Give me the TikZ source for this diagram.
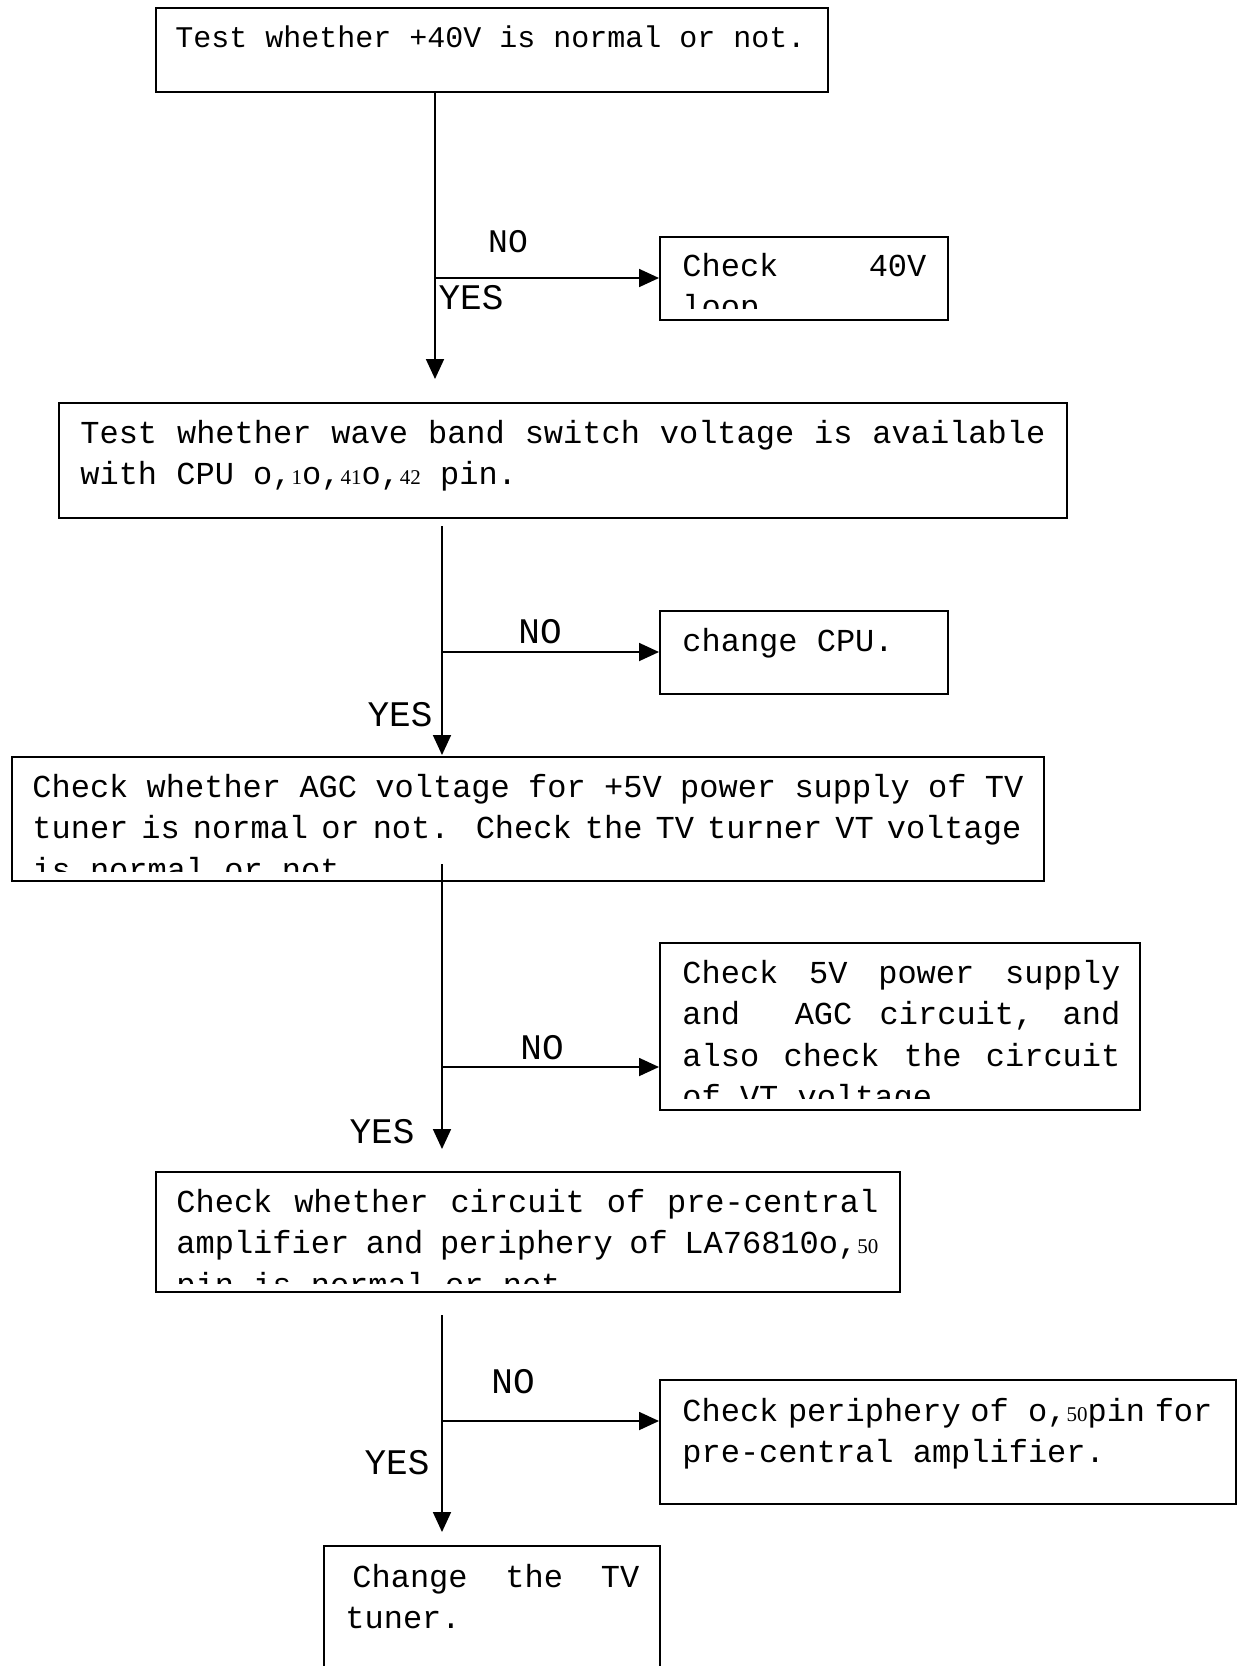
\documentclass[tikz,border=0pt]{standalone}
\usepackage{fontspec}
\setmonofont{Liberation Mono}
\newfontfamily\pinfont{Liberation Serif}
\usetikzlibrary{arrows.meta,positioning}

\newcommand{\boxfont}{\ttfamily\fontsize{16}{20.75}\selectfont%
 \fontdimen3\font=0.6em \fontdimen4\font=0.4em\relax}
\newcommand{\headfont}{\ttfamily\fontsize{15}{20.75}\selectfont}
\newcommand{\labelfont}{\ttfamily\fontsize{18}{18}\selectfont}
\newcommand{\smalllabelfont}{\ttfamily\fontsize{16.5}{16.5}\selectfont}
\newcommand{\pinno}[1]{{\pinfont\fontsize{10.5}{10.5}\selectfont #1}}
\newcommand{\textlines}[1]{\vtop{\baselineskip=20.75pt\lineskiplimit=-50pt\relax #1}}
\newcommand{\fitline}[2]{\hbox to #1{#2}}
\newcommand{\oneline}[1]{\hbox{#1}}

\begin{document}
\begin{tikzpicture}[x=0.5pt,y=-0.5pt]
 \tikzset{main node/.style={rectangle, draw, line width=0.9pt,
 		anchor=north west, inner sep=0pt}, }
 \tikzset{text node/.style={anchor=base west, inner sep=0pt,
 		font=\boxfont}, }
 \tikzset{answer node/.style={inner sep=0pt, font=\labelfont}, }
 \tikzset{linea/.style={line width=0.9pt,
 		-{Triangle[length=10pt,width=9pt]}},}
 \useasboundingbox[fill=white] (0,0) rectangle (1239,1666);
 %% boxes
 \node[main node, minimum width=336pt, minimum height=42pt] (1) at (155,7) {};
 \node[main node, minimum width=144pt, minimum height=41.5pt] (2) at (659,236) {};
 \node[main node, minimum width=504pt, minimum height=57.5pt] (3) at (58,402) {};
 \node[main node, minimum width=144pt, minimum height=41.5pt] (4) at (659,610) {};
 \node[main node, minimum width=516pt, minimum height=62pt] (5) at (11,756) {};
 \node[main node, minimum width=240pt, minimum height=83.5pt] (6) at (659,942) {};
 \node[main node, minimum width=372pt, minimum height=60pt] (7) at (155,1171) {};
 \node[main node, minimum width=288pt, minimum height=62pt] (8) at (659,1379) {};
 \node[main node, minimum width=168pt, minimum height=72.5pt] (9) at (323,1545) {};
 %% texts
 \node[text node, font=\headfont] (t1) at (175,47) {Test whether +40V is normal or not.};
 \begin{scope}
 	\clip (659,236) rectangle (947,308);
 	\node[text node] (t2) at (682,276) {\textlines{\fitline{122pt}{Check 40V}\oneline{loop}}};
 \end{scope}
 \node[text node] (t3) at (80,443) {\textlines{%
 	\fitline{482.5pt}{Test whether wave band switch voltage is available}%
 	\oneline{with CPU o,\pinno{1}o,\pinno{41}o,\pinno{42} pin.}}};
 \node[text node] (t4) at (682,651) {change CPU.};
 \begin{scope}
 	\clip (11,756) rectangle (1043,871);
 	\node[text node] (t5) at (32,797) {\textlines{%
 		\fitline{495.5pt}{Check whether AGC voltage for +5V power supply of TV}%
 		\fitline{494.5pt}{tuner is normal or not.\ \ Check the TV turner VT voltage}%
 		\oneline{is normal or not.}}};
 \end{scope}
 \begin{scope}
 	\clip (659,942) rectangle (1139,1098);
 	\node[text node] (t6) at (682,983) {\textlines{%
 		\fitline{219pt}{Check 5V power supply}%
 		\fitline{219pt}{and\ \ AGC circuit, and}%
 		\fitline{219pt}{also check the circuit}%
 		\oneline{of VT voltage.}}};
 \end{scope}
 \begin{scope}
 	\clip (155,1171) rectangle (899,1283);
 	\node[text node] (t7) at (176,1212) {\textlines{%
 		\fitline{351pt}{Check whether circuit of pre-central}%
 		\fitline{351pt}{amplifier and periphery of LA76810o,\pinno{50}}%
 		\oneline{pin is normal or not.}}};
 \end{scope}
 \node[text node] (t8) at (682,1421) {\textlines{%
 	\fitline{265pt}{Check periphery of\ \ o,\pinno{50}pin for}%
 	\oneline{pre-central amplifier.}}};
 \node[text node] (t9) at (345,1587) {\textlines{%
 	\fitline{147pt}{\hskip3.5pt Change the TV}%
 	\oneline{tuner.}}};
 %% answers
 \node[answer node, font=\smalllabelfont] (no1) at (508,242) {NO};
 \node[answer node] (yes1) at (471,298) {YES};
 \node[answer node] (no2) at (540,632) {NO};
 \node[answer node] (yes2) at (400,715) {YES};
 \node[answer node] (no3) at (542,1048) {NO};
 \node[answer node] (yes3) at (382,1132) {YES};
 \node[answer node] (no4) at (513,1382) {NO};
 \node[answer node] (yes4) at (397,1463) {YES};
 %% connectors
 \foreach \n/\x/\ya/\yb/\yc in {1/435/91/379/278, 2/442/526/755/652,
 		3/442/864/1149/1067, 4/442/1315/1532/1421} {
 	\coordinate (from\n) at (\x,\ya);
 	\coordinate (to\n) at (\x,\yb);
 	\coordinate (fork\n) at (\x,\yc);
 }
 \foreach \x in {1,...,4}
 \draw[linea] (from\x) -- (to\x);
 \foreach \x/\y in {1/2,2/4,3/6,4/8}
 \draw[linea] (fork\x) -- (fork\x -| \y.west);
 %%
\end{tikzpicture}
\end{document}
